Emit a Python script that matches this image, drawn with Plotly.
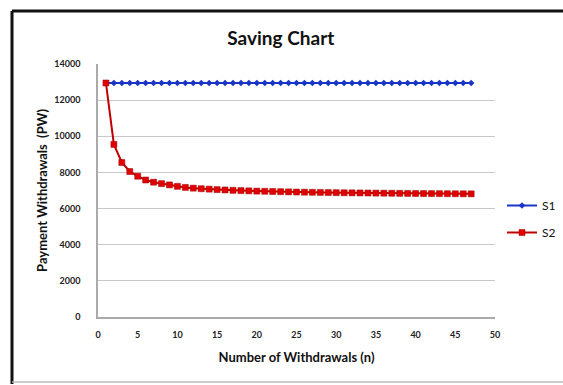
import plotly.graph_objects as go

n_values = list(range(1, 48))
s1_values = [12950] * 47
s2_values = [12950, 9550, 8550, 8050, 7790, 7580, 7460, 7380, 7310, 7230,
             7170, 7130, 7100, 7075, 7050, 7030, 7010, 6995, 6980, 6965,
             6955, 6945, 6935, 6925, 6915, 6907, 6900, 6893, 6887, 6881,
             6875, 6870, 6865, 6860, 6855, 6851, 6847, 6843, 6839, 6835,
             6832, 6829, 6826, 6823, 6820, 6817, 6815]
series_names = ["S1", "S2"]
x_ticks = list(range(0, 55, 5))
y_ticks = list(range(0, 16000, 2000))
y_tick_labels = [str(v) for v in y_ticks]

FONT = "Lato"
fig = go.Figure()
fig.add_trace(go.Scatter(
    x=n_values, y=s1_values, name=series_names[0], mode="lines+markers",
    legendgroup="a",
    line=dict(color="#1a35c4", width=2),
    marker=dict(symbol="diamond", size=5, color="#1a35c4"),
))
fig.add_trace(go.Scatter(
    x=n_values, y=s2_values, name=series_names[1], mode="lines+markers",
    legendgroup="b",
    line=dict(color="#c00000", width=2),
    marker=dict(symbol="square", size=6, color="#e00000",
                line=dict(color="#a00000", width=0.5)),
))

L, R, T, B = 98, 68, 64, 68
W, H = 563, 385
pw, ph = W - L - R, H - T - B

def px(x):
    return (x - L) / pw

def py(y):
    return (H - B - y) / ph

fig.update_layout(
    width=W, height=H, autosize=False,
    margin=dict(l=L, r=R, t=T, b=B, autoexpand=False),
    paper_bgcolor="white", plot_bgcolor="white",
    font=dict(family=FONT, color="#222"),
    title=dict(text="Saving Chart", x=px(296), xanchor="center",
               y=1 - 38 / H, yanchor="middle",
               font=dict(family=FONT, size=19, color="#111", weight="bold")),
    showlegend=True,
    legend=dict(x=px(502), y=py(219), xanchor="left", yanchor="middle",
                font=dict(family=FONT, size=12, color="#111"),
                itemwidth=30, tracegroupgap=8, bgcolor="rgba(0,0,0,0)"),
    xaxis=dict(range=[0, 50], tickvals=x_ticks, showgrid=False,
               showline=True, linecolor="#aaaaaa", linewidth=1.5,
               ticks="", zeroline=False, ticklabelstandoff=8,
               tickfont=dict(family=FONT, size=9, color="#222", weight="bold"),
               title=dict(text="Number of Withdrawals (n)", standoff=14,
                          font=dict(family=FONT, size=13, color="#111", weight="bold"))),
    yaxis=dict(range=[0, 14000], tickvals=y_ticks, ticktext=y_tick_labels,
               showgrid=True, gridcolor="#c8c8c8", gridwidth=1,
               showline=True, linecolor="#aaaaaa", linewidth=1.5,
               ticks="", zeroline=False, ticklabelstandoff=14,
               tickfont=dict(family=FONT, size=9, color="#222", weight="bold"),
               title=dict(text="Payment Withdrawals  (PW)", standoff=4,
                          font=dict(family=FONT, size=13, color="#111", weight="bold"))),
    shapes=[
        dict(type="line", xref="paper", yref="paper",
             x0=px(12), x1=px(563), y0=py(11), y1=py(11),
             line=dict(color="#111", width=3)),
        dict(type="line", xref="paper", yref="paper",
             x0=px(12), x1=px(12), y0=py(11), y1=py(384),
             line=dict(color="#111", width=3)),
        dict(type="line", xref="paper", yref="paper",
             x0=px(12), x1=px(563), y0=py(382), y1=py(382),
             line=dict(color="#bbbbbb", width=1.5)),
    ],
)

fig.write_html(
    "out.html",
    config={"displayModeBar": False, "responsive": False},
    post_script="document.body.style.margin='0';document.body.style.overflow='hidden';",
)
